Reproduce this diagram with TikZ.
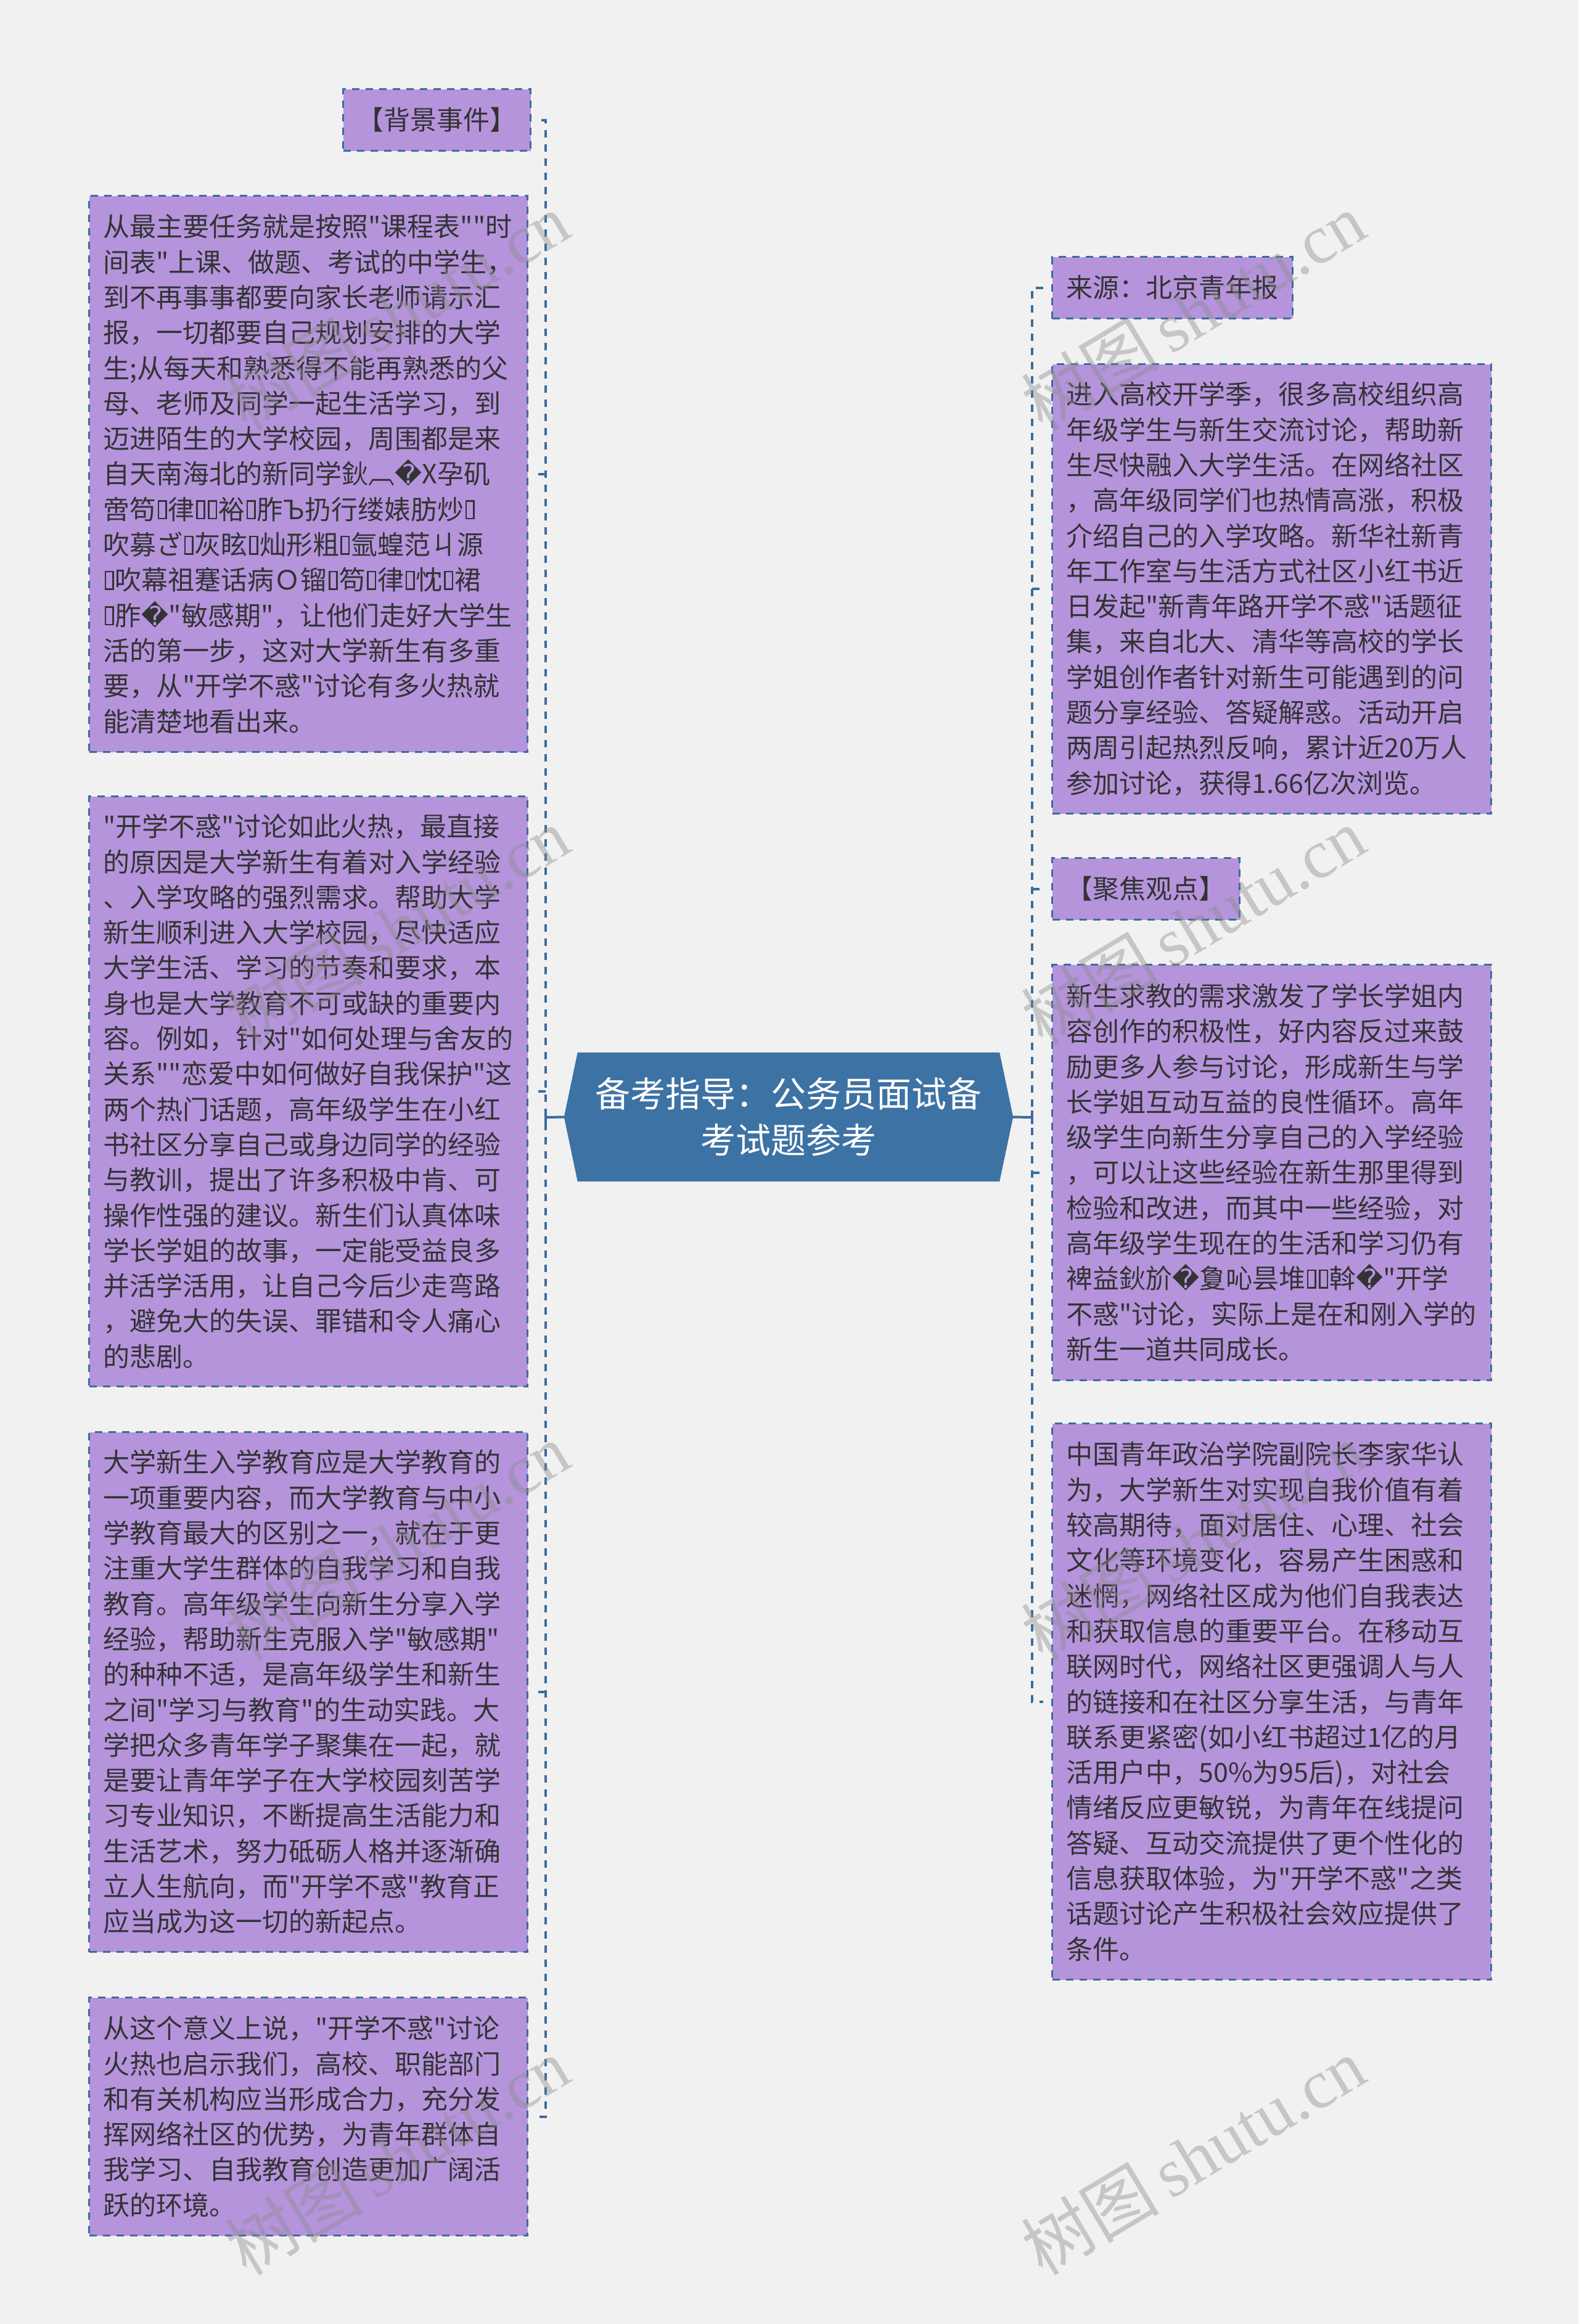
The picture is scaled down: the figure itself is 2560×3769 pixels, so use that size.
\documentclass[tikz,border=0pt]{standalone}
\usepackage{fontspec}
\newfontfamily\cjk{Noto Sans CJK SC}
\newfontfamily\djv{DejaVu Sans}
\newfontfamily\wmserif{Liberation Serif}
\newcommand\rpc{{\djv\char"FFFD}}
\newcommand\tofu{\kern0.05em\vbox{\hrule height0.06em\hbox{\vrule width0.06em height0.6em\kern0.23em\vrule width0.06em}\hrule height0.06em}\kern0.05em}
\newcommand\lnb[1]{\mbox{#1}\\}
\definecolor{bgc}{HTML}{F1F1F1}
\definecolor{boxc}{HTML}{B594DC}
\definecolor{bordc}{HTML}{3A6C9E}
\definecolor{cfill}{HTML}{3D72A4}
\definecolor{txtc}{HTML}{333333}
\definecolor{wmc}{HTML}{8C8C8C}
\pgfdeclarelayer{back}
\pgfdeclarelayer{bgl}
\pgfsetlayers{back,bgl,main}
\tikzset{
  nbox/.style={draw=bordc, fill=boxc, line width=3pt, dash pattern=on 12pt off 10pt,
    text=txtc, font=\cjk\fontsize{43}{57.3}\selectfont, inner xsep=23pt, inner ysep=0pt,
    anchor=north west},
  textbox/.style={nbox, align=left, text width=#1},
  headbox/.style={nbox, align=center},
  trunk/.style={draw=bordc, line width=4pt, dash pattern=on 12pt off 11pt},
  solidc/.style={draw=bordc, line width=4pt},
  wm/.style={text=wmc, opacity=0.42, font=\fontsize{112}{120}\selectfont, rotate=31, inner sep=0pt}
}
\begin{document}
\begin{tikzpicture}[x=1pt,y=-1pt]
\useasboundingbox (0,0) rectangle (2560,3769);
\begin{pgfonlayer}{back}
\fill[bgc] (0,0) rectangle (2560,3769);
\end{pgfonlayer}

% central node
\node[text=white, font=\cjk\fontsize{57}{75}\selectfont, align=center, minimum width=728pt,
  minimum height=209pt, inner sep=0pt] (c) at (1279,1811.5) {备考指导：公务员面试备\\考试题参考};
\begin{pgfonlayer}{bgl}
\fill[cfill] ([xshift=22pt]c.north west) -- ([xshift=-22pt]c.north east) -- (c.east)
  -- ([xshift=-22pt]c.south east) -- ([xshift=22pt]c.south west) -- (c.west) -- cycle;
\end{pgfonlayer}

% left column
\node[headbox, minimum width=299pt, minimum height=100pt] (lb0) at (555,143) {【背景事件】};

\node[textbox=665pt, minimum height=902pt] (lb1) at (143,316) {%
\lnb{从最主要任务就是按照"课程表""时}%
\lnb{间表"上课、做题、考试的中学生，}%
\lnb{到不再事事都要向家长老师请示汇}%
\lnb{报，一切都要自己规划安排的大学}%
\lnb{生;从每天和熟悉得不能再熟悉的父}%
\lnb{母、老师及同学一起生活学习，到}%
\lnb{迈进陌生的大学校园，周围都是来}%
\lnb{自天南海北的新同学鈥︹\rpc{}X孕矶}%
\lnb{啻笱\tofu{}律\tofu{}\tofu{}裕\tofu{}胙Ъ扔行缕婊肪炒\tofu{}}%
\lnb{吹募ざ\tofu{}灰眩\tofu{}灿形粗\tofu{}氩蝗范ㄐ源}%
\lnb{\tofu{}吹幕祖蹇话病Ｏ镏\tofu{}笱\tofu{}律\tofu{}忱\tofu{}裙}%
\lnb{\tofu{}胙\rpc{}"敏感期"，让他们走好大学生}%
\lnb{活的第一步，这对大学新生有多重}%
\lnb{要，从"开学不惑"讨论有多火热就}%
\mbox{能清楚地看出来。}};

\node[textbox=665pt, minimum height=957pt] (lb2) at (143,1290) {%
\lnb{"开学不惑"讨论如此火热，最直接}%
\lnb{的原因是大学新生有着对入学经验}%
\lnb{、入学攻略的强烈需求。帮助大学}%
\lnb{新生顺利进入大学校园，尽快适应}%
\lnb{大学生活、学习的节奏和要求，本}%
\lnb{身也是大学教育不可或缺的重要内}%
\lnb{容。例如，针对"如何处理与舍友的}%
\lnb{关系""恋爱中如何做好自我保护"这}%
\lnb{两个热门话题，高年级学生在小红}%
\lnb{书社区分享自己或身边同学的经验}%
\lnb{与教训，提出了许多积极中肯、可}%
\lnb{操作性强的建议。新生们认真体味}%
\lnb{学长学姐的故事，一定能受益良多}%
\lnb{并活学活用，让自己今后少走弯路}%
\lnb{，避免大的失误、罪错和令人痛心}%
\mbox{的悲剧。}};

\node[textbox=665pt, minimum height=843pt] (lb3) at (143,2321) {%
\lnb{大学新生入学教育应是大学教育的}%
\lnb{一项重要内容，而大学教育与中小}%
\lnb{学教育最大的区别之一，就在于更}%
\lnb{注重大学生群体的自我学习和自我}%
\lnb{教育。高年级学生向新生分享入学}%
\lnb{经验，帮助新生克服入学"敏感期"}%
\lnb{的种种不适，是高年级学生和新生}%
\lnb{之间"学习与教育"的生动实践。大}%
\lnb{学把众多青年学子聚集在一起，就}%
\lnb{是要让青年学子在大学校园刻苦学}%
\lnb{习专业知识，不断提高生活能力和}%
\lnb{生活艺术，努力砥砺人格并逐渐确}%
\lnb{立人生航向，而"开学不惑"教育正}%
\mbox{应当成为这一切的新起点。}};

\node[textbox=665pt, minimum height=386pt] (lb4) at (143,3238) {%
\lnb{从这个意义上说，"开学不惑"讨论}%
\lnb{火热也启示我们，高校、职能部门}%
\lnb{和有关机构应当形成合力，充分发}%
\lnb{挥网络社区的优势，为青年群体自}%
\lnb{我学习、自我教育创造更加广阔活}%
\mbox{跃的环境。}};

% right column
\node[headbox, minimum width=387pt, minimum height=100pt] (rb0) at (1705,415) {来源：北京青年报};

\node[textbox=666pt, minimum height=729pt] (rb1) at (1705,589) {%
\lnb{进入高校开学季，很多高校组织高}%
\lnb{年级学生与新生交流讨论，帮助新}%
\lnb{生尽快融入大学生活。在网络社区}%
\lnb{，高年级同学们也热情高涨，积极}%
\lnb{介绍自己的入学攻略。新华社新青}%
\lnb{年工作室与生活方式社区小红书近}%
\lnb{日发起"新青年路开学不惑"话题征}%
\lnb{集，来自北大、清华等高校的学长}%
\lnb{学姐创作者针对新生可能遇到的问}%
\lnb{题分享经验、答疑解惑。活动开启}%
\lnb{两周引起热烈反响，累计近20万人}%
\mbox{参加讨论，获得1.66亿次浏览。}};

\node[headbox, minimum width=301pt, minimum height=100pt] (rb2) at (1705,1390) {【聚焦观点】};

\node[textbox=666pt, minimum height=674pt] (rb3) at (1705,1563) {%
\lnb{新生求教的需求激发了学长学姐内}%
\lnb{容创作的积极性，好内容反过来鼓}%
\lnb{励更多人参与讨论，形成新生与学}%
\lnb{长学姐互动互益的良性循环。高年}%
\lnb{级学生向新生分享自己的入学经验}%
\lnb{，可以让这些经验在新生那里得到}%
\lnb{检验和改进，而其中一些经验，对}%
\lnb{高年级学生现在的生活和学习仍有}%
\lnb{裨益鈥斺\rpc{}夐吣昙堆\tofu{}\tofu{}斡\rpc{}"开学}%
\lnb{不惑"讨论，实际上是在和刚入学的}%
\mbox{新生一道共同成长。}};

\node[textbox=666pt, minimum height=902pt] (rb4) at (1705,2307) {%
\lnb{中国青年政治学院副院长李家华认}%
\lnb{为，大学新生对实现自我价值有着}%
\lnb{较高期待，面对居住、心理、社会}%
\lnb{文化等环境变化，容易产生困惑和}%
\lnb{迷惘，网络社区成为他们自我表达}%
\lnb{和获取信息的重要平台。在移动互}%
\lnb{联网时代，网络社区更强调人与人}%
\lnb{的链接和在社区分享生活，与青年}%
\lnb{联系更紧密(如小红书超过1亿的月}%
\lnb{活用户中，50\%为95后)，对社会}%
\lnb{情绪反应更敏锐，为青年在线提问}%
\lnb{答疑、互动交流提供了更个性化的}%
\lnb{信息获取体验，为"开学不惑"之类}%
\lnb{话题讨论产生积极社会效应提供了}%
\mbox{条件。}};

% connectors
\coordinate (jl) at (885,1812);
\coordinate (jr) at (1674,1812);
\draw[trunk] ([xshift=16pt]lb0.east) -| (jl) |- ([xshift=16pt]lb4.east);
\foreach \n in {lb1,lb2,lb3} \draw[trunk] (\n.east -| jl) -- ([xshift=16pt]\n.east);
\draw[trunk] ([xshift=-13pt]rb0.west) -| (jr) |- ([xshift=-13pt]rb4.west);
\foreach \n in {rb1,rb2,rb3} \draw[trunk] (\n.west -| jr) -- ([xshift=-13pt]\n.west);
\draw[solidc] (c.west) -- (jl);
\draw[solidc] ([yshift=-11pt]jl) -- ([yshift=11pt]jl);
\draw[solidc] (c.east) -- (jr);
\draw[solidc] ([yshift=-11pt]jr) -- ([yshift=11pt]jr);

% watermarks
\node[wm] (w1) at (644,505) {{\cjk 树图}\,{\wmserif shutu.cn}};
\node[wm] (w2) at (644,1502) {{\cjk 树图}\,{\wmserif shutu.cn}};
\node[wm] (w3) at (644,2500) {{\cjk 树图}\,{\wmserif shutu.cn}};
\node[wm] (w4) at (644,3497) {{\cjk 树图}\,{\wmserif shutu.cn}};
\node[wm] (w5) at (1935,505) {{\cjk 树图}\,{\wmserif shutu.cn}};
\node[wm] (w6) at (1935,1502) {{\cjk 树图}\,{\wmserif shutu.cn}};
\node[wm] (w7) at (1935,2500) {{\cjk 树图}\,{\wmserif shutu.cn}};
\node[wm] (w8) at (1935,3497) {{\cjk 树图}\,{\wmserif shutu.cn}};
\end{tikzpicture}
\end{document}
